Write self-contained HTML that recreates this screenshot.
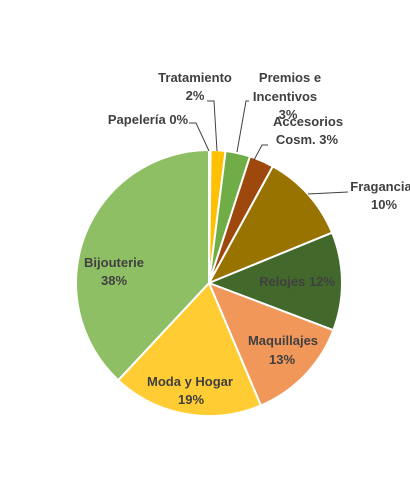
<!DOCTYPE html>
<html><head><meta charset="utf-8"><style>
html,body{margin:0;padding:0;background:#fff;}
svg{display:block;font-family:"Liberation Sans",Arial,sans-serif;font-weight:bold;font-size:13px;}
</style></head><body>
<svg id="chart" width="410" height="490">
<g id="slices"></g>
<g id="leaders" stroke="#404040" stroke-width="1" fill="none">
<polyline points="189,123 196,123 209,151"/>
<polyline points="207,101 214,101 217,151"/>
<polyline points="249,101 246,101 237,152"/>
<polyline points="268,145 262,145 254,160"/>
<polyline points="348,192 308,194"/>
</g>
<g fill="#404040" text-anchor="middle">
<text x="195" y="82">Tratamiento</text>
<text x="195" y="100">2%</text>
<text x="290" y="82">Premios e</text>
<text x="285" y="101">Incentivos</text>
<text x="288" y="119">3%</text>
<text x="148" y="124">Papelería 0%</text>
<text x="308" y="126">Accesorios</text>
<text x="307" y="144">Cosm. 3%</text>
<text x="381" y="191">Fragancia</text>
<text x="384" y="209">10%</text>
<text x="297" y="286">Relojes 12%</text>
<text x="283" y="345">Maquillajes</text>
<text x="282" y="364">13%</text>
<text x="190" y="386">Moda y Hogar</text>
<text x="191" y="404">19%</text>
<text x="114" y="267">Bijouterie</text>
<text x="114" y="285">38%</text>
</g>
</svg>
<script>
const categories=["Papelería","Tratamiento","Premios e Incentivos","Accesorios Cosm.","Fragancia","Relojes","Maquillajes","Moda y Hogar","Bijouterie"];
const values=[0.2,1.8,3.0,3.0,10.9,12.0,12.9,18.4,38.2];
const colors=["#FFC000","#FFC000","#70AD47","#9E480E","#997300","#43682B","#F1975A","#FFCD33","#8FBF65"];
const cx=209,cy=283,r=133;
const g=document.getElementById('slices');
const total=values.reduce((a,b)=>a+b,0);
let a0=0;
function pt(a){return [cx+r*Math.sin(a),cy-r*Math.cos(a)];}
values.forEach((v,i)=>{
  const a1=a0+v/total*2*Math.PI;
  const p0=pt(a0),p1=pt(a1);
  const large=(a1-a0)>Math.PI?1:0;
  const p=document.createElementNS('http://www.w3.org/2000/svg','path');
  p.setAttribute('d',`M${cx},${cy}L${p0[0]},${p0[1]}A${r},${r} 0 ${large} 1 ${p1[0]},${p1[1]}Z`);
  p.setAttribute('fill',colors[i]);
  p.setAttribute('stroke','#fff');
  p.setAttribute('stroke-width','2');
  
  
  g.appendChild(p);
  a0=a1;
});
</script>
</body></html>
